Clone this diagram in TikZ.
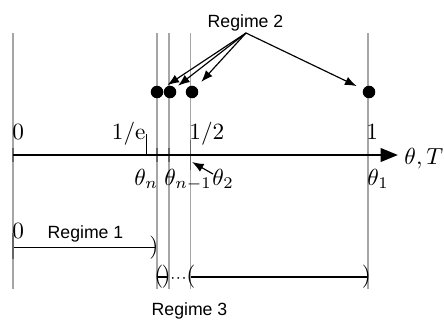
\documentclass[tikz,border=0pt]{standalone}
\usepackage{fontspec}
\newfontfamily\regfont{Liberation Sans}
\usetikzlibrary{arrows.meta}
\begin{document}
\begin{tikzpicture}[x=0.43pt,y=-0.43pt,
  guide/.style={draw=black!35,line width=0.45pt},
  darktick/.style={draw=black!60,line width=0.5pt},
  dot/.style={circle,fill=black,inner sep=0pt,minimum size=5.4pt},
  lab/.style={inner sep=0pt,font=\regfont\fontsize{7.6}{9}\selectfont},
  mlab/.style={inner sep=0pt},
  tip/.style={-{Latex[length=5pt,width=3.8pt]},line width=0.5pt},
  ptr/.style={tip,shorten >=1.5pt},
  axisline/.style={-{Triangle[length=7.5pt,width=5.8pt]},line width=1.1pt},
  seg/.style={line width=0.6pt}]
\useasboundingbox (0,0) rectangle (444,322);
% vertical guides
\foreach \x/\n in {13/a,157/b,169/c,190.5/d,368/e}{
  \coordinate (top\n) at (\x,33);
  \coordinate (bot\n) at (\x,289);
  \draw[guide] (top\n) -- (bot\n);
}
% darker ticks on the axis
\draw[darktick] (13,148) -- (13,162);
\draw[darktick] (157,148) -- (157,162);
\draw[darktick] (169,148) -- (169,162);
\draw[darktick] (190.5,140) -- (190.5,170);
% axis
\coordinate (ax0) at (13,155);
\coordinate (axend) at (398,155);
\draw[axisline] (ax0) -- (axend);
\node[mlab,anchor=base west] (axlab) at (404,164) {$\theta,T$};
% 1/e tick
\coordinate (etop) at (146.5,134);
\coordinate (ebot) at (146.5,155);
\draw[line width=0.5pt] (etop) -- (ebot);
% labels above axis
\node[mlab,anchor=base west] (l0) at (12,139) {$0$};
\node[mlab,anchor=base east] (le) at (146,139) {$1/\mathrm{e}$};
\node[mlab,anchor=base west] (lh) at (189,139) {$1/2$};
\node[mlab,anchor=base west] (l1) at (366,139) {$1$};
% labels below axis
\node[mlab,anchor=base west] (thn) at (134,185) {$\theta_n$};
\node[mlab,anchor=base west] (thn1) at (164,185) {$\theta_{n-1}$};
\node[mlab,anchor=base west] (th2) at (212,185) {$\theta_2$};
\node[mlab,anchor=base west] (th1) at (367,185) {$\theta_1$};
\coordinate (t2) at (213,174);
\coordinate (p2) at (192,162);
\draw[tip] (t2) -- (p2);
% dots and regime 2
\node[dot] (d1) at (157,92) {};
\node[dot] (d2) at (170,92) {};
\node[dot] (d3) at (192,92) {};
\node[dot] (d4) at (369,92) {};
\node[lab,anchor=base] (r2) at (245.5,27) {Regime 2};
\coordinate (r2s) at (246,33);
\draw[ptr,shorten >=2.5pt] (r2s) -- (d1);
\draw[ptr] (r2s) -- (d2);
\draw[ptr,shorten >=3pt] (r2s) -- (d3);
\draw[ptr,shorten >=3pt] (r2s) -- (d4);
% regime 1
\node[mlab,anchor=base west] (b0) at (12,238) {$0$};
\node[lab,anchor=base] (r1) at (85.5,238.5) {Regime 1};
\coordinate (s1a) at (13,247.5);
\coordinate (s1b) at (155,247.5);
\draw[seg] (s1a) -- (s1b);
\draw[darktick] (13,233) -- (13,259);
\node[mlab] (c1) at (154,247.5) {$)$};
% regime 3 row
\coordinate (s2a) at (157,277);
\coordinate (s2b) at (168,277);
\draw[seg] (s2a) -- (s2b);
\node[mlab] (o2) at (158.8,277) {$($};
\node[mlab] (c2) at (166.2,277) {$)$};
\node[mlab] (dd) at (178.5,279) {$\scriptstyle\cdots$};
\coordinate (s3a) at (191,277);
\coordinate (s3b) at (367,277);
\draw[seg] (s3a) -- (s3b);
\node[mlab] (o3) at (191,277) {$($};
\node[mlab] (c3) at (366.5,277) {$)$};
\node[lab,anchor=base] (r3) at (189.5,315) {Regime 3};
\end{tikzpicture}
\end{document}
